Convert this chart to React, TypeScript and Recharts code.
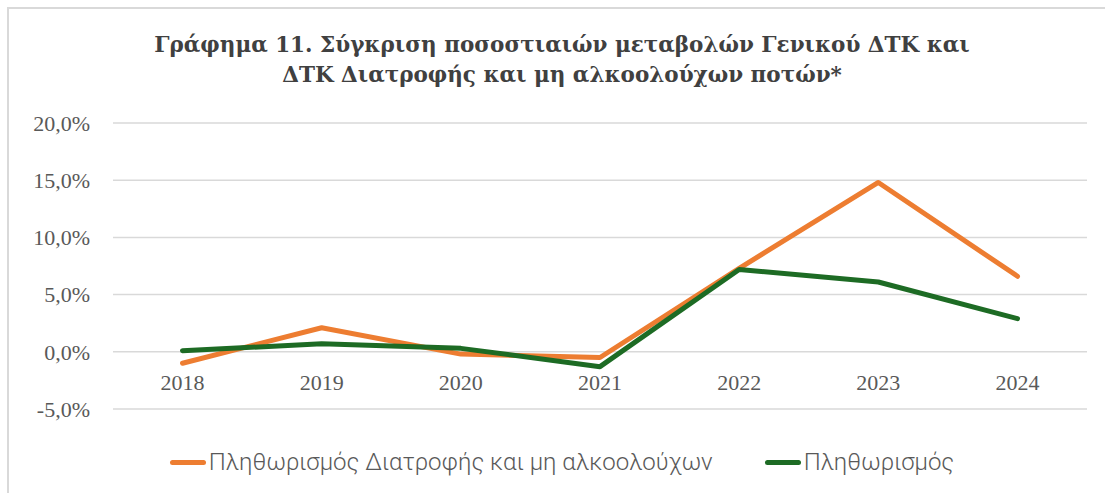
import { LineChart, Line, XAxis, YAxis, CartesianGrid } from "recharts"

const years = ["2018", "2019", "2020", "2021", "2022", "2023", "2024"]
const foodInflation = [-1.0, 2.1, -0.2, -0.5, 7.3, 14.8, 6.6]
const inflation = [0.1, 0.7, 0.3, -1.3, 7.2, 6.1, 2.9]
const yTicks = [-5, 0, 5, 10, 15, 20]

const seriesNames = ["Πληθωρισμός Διατροφής και μη αλκοολούχων", "Πληθωρισμός"]
const seriesColors = ["#ED7D31", "#1D6B24"]

const data = years.map((year, i) => ({
  year,
  food: foodInflation[i],
  total: inflation[i],
}))

const tickFont = "'Liberation Serif', 'DejaVu Serif', serif"

const YearTick = (props: any) => {
  const { x, y, payload } = props
  return (
    <text x={x} y={y - 19} textAnchor="middle" fill="#595959" fontSize={22} fontFamily={tickFont}>
      {payload.value}
    </text>
  )
}

export default function App() {
  return (
    <div style={{ position: "absolute", left: 0, top: 0, width: 1105, height: 493, background: "#fff", overflow: "hidden" }}>
      <div
        style={{
          position: "absolute",
          left: 7,
          top: 7,
          width: 1120,
          height: 520,
          border: "2px solid #d9d9d9",
          boxSizing: "border-box",
        }}
      />
      <div
        style={{
          position: "absolute",
          left: 0,
          top: 30,
          width: 1124,
          textAlign: "center",
          fontFamily: "'DejaVu Serif', serif",
          fontWeight: "bold",
          fontSize: 21.5,
          lineHeight: "30px",
          color: "#404040",
        }}
      >
        Γράφημα 11. Σύγκριση ποσοστιαιών μεταβολών Γενικού ΔΤΚ και
        <br />
        ΔΤΚ Διατροφής και μη αλκοολούχων ποτών*
      </div>
      <div style={{ position: "absolute", left: 0, top: 0 }}>
        {/* x axis keeps its default 30px height, so bottom margin is 84 - 30 */}
        <LineChart width={1105} height={493} data={data} margin={{ top: 123, right: 18, bottom: 54, left: 0 }}>
          <CartesianGrid vertical={false} stroke="#d9d9d9" strokeWidth={1.5} />
          <XAxis
            dataKey="year"
            axisLine={false}
            tickLine={false}
            tickSize={0}
            tickMargin={0}
            padding={{ left: 69.5, right: 69.5 }}
            tick={<YearTick />}
            interval={0}
          />
          <YAxis
            width={113}
            domain={[-5, 20]}
            ticks={yTicks}
            axisLine={false}
            tickLine={false}
            tickSize={0}
            tickMargin={23}
            tickFormatter={(v: number) => v.toFixed(1).replace(".", ",") + "%"}
            tick={{ fill: "#595959", fontSize: 22, fontFamily: tickFont }}
          />
          <Line
            type="linear"
            dataKey="food"
            name={seriesNames[0]}
            stroke={seriesColors[0]}
            strokeWidth={5}
            strokeLinecap="round"
            strokeLinejoin="round"
            dot={false}
            activeDot={false}
            isAnimationActive={false}
          />
          <Line
            type="linear"
            dataKey="total"
            name={seriesNames[1]}
            stroke={seriesColors[1]}
            strokeWidth={5}
            strokeLinecap="round"
            strokeLinejoin="round"
            dot={false}
            activeDot={false}
            isAnimationActive={false}
          />
        </LineChart>
      </div>
      {/* legend, drawn as html so it does not eat into the plot area */}
      <div
        style={{
          position: "absolute",
          left: 0,
          top: 446,
          width: 1124,
          height: 32,
          display: "flex",
          justifyContent: "center",
          alignItems: "center",
          gap: 52,
        }}
      >
        {seriesNames.map((name, i) => (
          <div key={name} style={{ display: "flex", alignItems: "center" }}>
            <span
              style={{
                display: "inline-block",
                width: 36,
                height: 5,
                borderRadius: 3,
                background: seriesColors[i],
                marginRight: 3,
              }}
            />
            <span style={{ color: "#595959", fontSize: 24, fontFamily: "Roboto, sans-serif", fontWeight: 300 }}>
              {name}
            </span>
          </div>
        ))}
      </div>
    </div>
  )
}
